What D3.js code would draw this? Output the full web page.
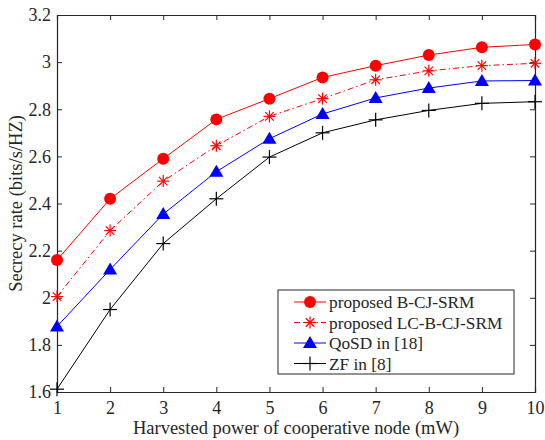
<!DOCTYPE html>
<html>
<head>
<meta charset="utf-8">
<script src="https://cdn.jsdelivr.net/npm/d3@7"></script>
<style>
  body { margin: 0; background: #fff; }
  text { font-family: "Liberation Serif", "Times New Roman", serif; fill: #262626; }
</style>
</head>
<body>
<script>
// Data.
const power = [1, 2, 3, 4, 5, 6, 7, 8, 9, 10];
const bcjSrm = [2.16, 2.42, 2.59, 2.757, 2.845, 2.935, 2.985, 3.03, 3.063, 3.075];
const lcBcjSrm = [2.005, 2.285, 2.495, 2.645, 2.77, 2.845, 2.925, 2.963, 2.985, 2.995];
const qosd = [1.878, 2.12, 2.355, 2.535, 2.675, 2.78, 2.848, 2.89, 2.92, 2.922];
const zf = [1.612, 1.95, 2.23, 2.42, 2.597, 2.70, 2.755, 2.795, 2.825, 2.832];
const yTicks = [1.6, 1.8, 2, 2.2, 2.4, 2.6, 2.8, 3, 3.2];
const seriesNames = ['proposed B-CJ-SRM', 'proposed LC-B-CJ-SRM', 'QoSD in [18]', 'ZF in [8]'];

// Svg constants.
const width = 545, height = 440;
const margin = {top: 15, right: 10, bottom: 48, left: 57};
const w = width - margin.left - margin.right,
      h = height - margin.top - margin.bottom;

const svg = d3.select('body')
    .append('svg')
    .attr('width', width)
    .attr('height', height);

const g = svg.append('g')
    .attr('transform', `translate(${margin.left},${margin.top})`);

// Scales.
const x = d3.scaleLinear().domain([1, 10]).range([0, w]);
const y = d3.scaleLinear().domain([1.6, 3.2]).range([h, 0]);

// Axes, ticks pointing inwards.
const axisColor = '#262626';
function styleAxis(sel, showText) {
    sel.select('.domain').attr('stroke', axisColor);
    sel.selectAll('.tick line').attr('stroke', axisColor);
    sel.selectAll('.tick text')
        .attr('font-size', '18px')
        .style('display', showText ? null : 'none');
}

g.append('g')
    .attr('transform', `translate(0,${h})`)
    .call(d3.axisBottom(x).tickValues(power).tickSize(-5).tickPadding(9).tickFormat(d3.format('d')))
    .call(s => styleAxis(s, true));

g.append('g')
    .call(d3.axisTop(x).tickValues(power).tickSize(-5).tickFormat(''))
    .call(s => styleAxis(s, false));

g.append('g')
    .call(d3.axisLeft(y).tickValues(yTicks).tickSize(-5).tickPadding(6).tickFormat(d => d3.format('')(d)))
    .call(s => styleAxis(s, true));

g.append('g')
    .attr('transform', `translate(${w},0)`)
    .call(d3.axisRight(y).tickValues(yTicks).tickSize(-5).tickFormat(''))
    .call(s => styleAxis(s, false));

g.selectAll('.domain').attr('stroke-width', 1.2);

// Axis labels.
svg.append('text')
    .attr('x', margin.left + w / 2)
    .attr('y', 434)
    .attr('text-anchor', 'middle')
    .attr('font-size', '18.5px')
    .text('Harvested power of cooperative node (mW)');

svg.append('text')
    .attr('transform', `translate(22,${margin.top + h / 2}) rotate(-90)`)
    .attr('text-anchor', 'middle')
    .attr('font-size', '18.5px')
    .text('Secrecy rate (bits/s/HZ)');

// Marker drawers.
const markers = {
    circle: (sel, c) => sel.append('circle').attr('r', 6).attr('fill', c),
    star: (sel, c) => {
        const r = 6;
        for (let k = 0; k < 4; k++) {
            const a = k * Math.PI / 4;
            sel.append('line')
                .attr('x1', -r * Math.cos(a)).attr('y1', -r * Math.sin(a))
                .attr('x2', r * Math.cos(a)).attr('y2', r * Math.sin(a))
                .attr('stroke', c).attr('stroke-width', 1.2);
        }
    },
    triangle: (sel, c) => sel.append('path')
        .attr('d', 'M0,-7L7,5L-7,5Z').attr('fill', c),
    plus: (sel, c) => {
        sel.append('line').attr('x1', -7).attr('x2', 7).attr('stroke', c).attr('stroke-width', 1.2);
        sel.append('line').attr('y1', -7).attr('y2', 7).attr('stroke', c).attr('stroke-width', 1.2);
    }
};

const series = [
    {name: seriesNames[0], values: bcjSrm, color: '#ff0000', dash: null, marker: 'circle'},
    {name: seriesNames[1], values: lcBcjSrm, color: '#ff0000', dash: '6,3,1.5,3', marker: 'star'},
    {name: seriesNames[2], values: qosd, color: '#0000ff', dash: null, marker: 'triangle'},
    {name: seriesNames[3], values: zf, color: '#000000', dash: null, marker: 'plus'}
];

const line = d3.line()
    .x((d, i) => x(power[i]))
    .y(d => y(d));

// Draw the lines and markers.
series.forEach(s => {
    g.append('path')
        .datum(s.values)
        .attr('fill', 'none')
        .attr('stroke', s.color)
        .attr('stroke-width', 1)
        .attr('stroke-dasharray', s.dash)
        .attr('d', line);
    s.values.forEach((v, i) => {
        const m = g.append('g').attr('transform', `translate(${x(power[i])},${y(v)})`);
        markers[s.marker](m, s.color);
    });
});

// Legend.
const legend = svg.append('g').attr('transform', 'translate(278,290)');
legend.append('rect')
    .attr('width', 236).attr('height', 84)
    .attr('fill', '#fff')
    .attr('stroke', axisColor)
    .attr('stroke-width', 1);

series.forEach((s, i) => {
    const ly = 12 + i * 20.5;
    const row = legend.append('g').attr('transform', `translate(0,${ly})`);
    row.append('line')
        .attr('x1', 16).attr('x2', 48)
        .attr('stroke', s.color)
        .attr('stroke-dasharray', s.dash);
    markers[s.marker](row.append('g').attr('transform', 'translate(32,0)'), s.color);
    row.append('text')
        .attr('x', 51)
        .attr('y', 6)
        .attr('font-size', '17.3px')
        .text(s.name);
});
</script>
</body>
</html>
